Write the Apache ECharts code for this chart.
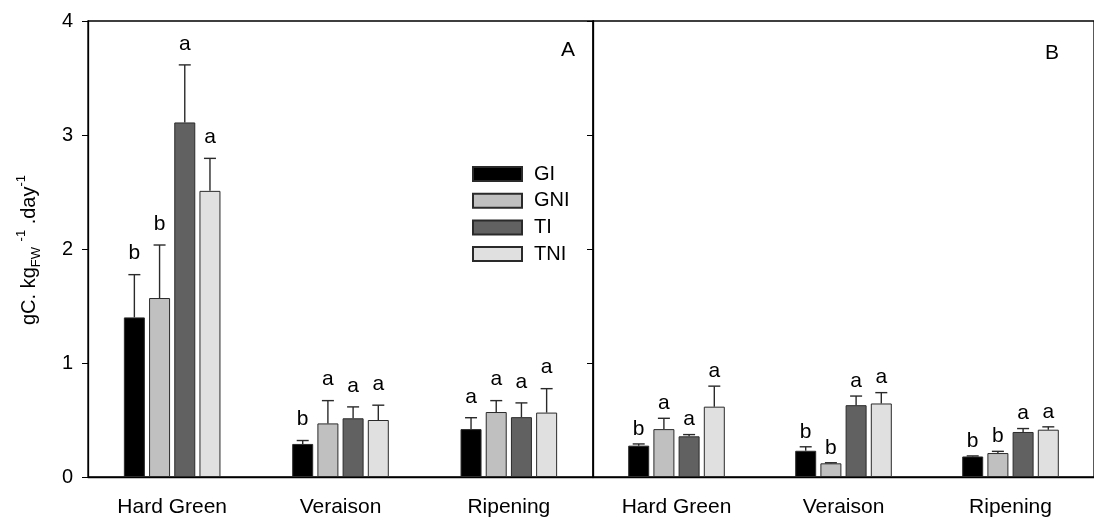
<!DOCTYPE html>
<html>
<head>
<meta charset="utf-8">
<script src="https://cdn.jsdelivr.net/npm/echarts@6/dist/echarts.min.js"></script>
<style>
  html, body { margin: 0; padding: 0; background: #fff; }
  #chart { width: 1094px; height: 518px; }
</style>
</head>
<body>
<div id="chart"></div>
<script>
// Stages and treatments
const categories = ['Hard Green', 'Veraison', 'Ripening'];
const seriesNames = ['GI', 'GNI', 'TI', 'TNI'];
const yTicks = [0, 1, 2, 3, 4];

// Panel A: means, standard errors, significance letters
const meanA_GI  = [1.40, 0.29, 0.42];
const meanA_GNI = [1.57, 0.47, 0.57];
const meanA_TI  = [3.11, 0.515, 0.525];
const meanA_TNI = [2.51, 0.50, 0.565];
const seA_GI  = [0.375, 0.03, 0.10];
const seA_GNI = [0.465, 0.20, 0.10];
const seA_TI  = [0.505, 0.10, 0.125];
const seA_TNI = [0.285, 0.13, 0.21];
const letA_GI  = ['b', 'b', 'a'];
const letA_GNI = ['b', 'a', 'a'];
const letA_TI  = ['a', 'a', 'a'];
const letA_TNI = ['a', 'a', 'a'];

// Panel B: means, standard errors, significance letters
const meanB_GI  = [0.275, 0.23, 0.18];
const meanB_GNI = [0.42, 0.12, 0.21];
const meanB_TI  = [0.357, 0.63, 0.395];
const meanB_TNI = [0.617, 0.645, 0.415];
const seB_GI  = [0.015, 0.035, 0.005];
const seB_GNI = [0.095, 0.005, 0.015];
const seB_TI  = [0.015, 0.08, 0.03];
const seB_TNI = [0.18, 0.095, 0.025];
const letB_GI  = ['b', 'b', 'b'];
const letB_GNI = ['a', 'b', 'b'];
const letB_TI  = ['a', 'a', 'a'];
const letB_TNI = ['a', 'a', 'a'];

const FONT = "'Liberation Sans', Arial, sans-serif";
const colors = ['#000000', '#c0c0c0', '#616161', '#e0e0e0'];
const BAR_W = 21;
const BAR_GAP = 0.2;
const PITCH = BAR_W * (1 + BAR_GAP);

const panels = [
  { means: [meanA_GI, meanA_GNI, meanA_TI, meanA_TNI],
    ses: [seA_GI, seA_GNI, seA_TI, seA_TNI],
    letters: [letA_GI, letA_GNI, letA_TI, letA_TNI], labelOff: 21 },
  { means: [meanB_GI, meanB_GNI, meanB_TI, meanB_TNI],
    ses: [seB_GI, seB_GNI, seB_TI, seB_TNI],
    letters: [letB_GI, letB_GNI, letB_TI, letB_TNI], labelOff: 15 }
];

function xAxisFor(idx) {
  return {
    type: 'category', gridIndex: idx, data: categories,
    axisLine: { lineStyle: { color: '#000', width: 1.3 } },
    axisTick: { alignWithLabel: true, length: 6, lineStyle: { color: '#000' } },
    axisLabel: { color: '#000', fontFamily: FONT, fontSize: 21, margin: 20 },
    splitLine: { show: false }
  };
}

function yAxisFor(idx) {
  return {
    type: 'value', gridIndex: idx, min: yTicks[0], max: yTicks[yTicks.length - 1], interval: 1,
    axisLine: { show: true, lineStyle: { color: '#000', width: 1.3 } },
    axisTick: { show: true, length: 6, lineStyle: { color: '#000' } },
    axisLabel: { show: idx === 0, color: '#000', fontFamily: FONT, fontSize: 20, margin: 15 },
    splitLine: { show: false }
  };
}

const series = [];
panels.forEach((p, pi) => {
  seriesNames.forEach((name, si) => {
    series.push({
      name: name, type: 'bar', xAxisIndex: pi, yAxisIndex: pi,
      data: p.means[si], barWidth: BAR_W, barGap: (BAR_GAP * 100) + '%',
      itemStyle: { color: colors[si], borderColor: '#2a2a2a', borderWidth: 1 },
      emphasis: { disabled: true }, animation: false
    });
  });
  seriesNames.forEach((name, si) => {
    series.push({
      type: 'custom', xAxisIndex: pi, yAxisIndex: pi, z: 5, animation: false,
      data: categories.map((c, ci) => [ci, p.means[si][ci], p.means[si][ci] + p.ses[si][ci]]),
      renderItem: function (params, api) {
        const ci = api.value(0);
        const base = api.coord([ci, api.value(1)]);
        const top = api.coord([ci, api.value(2)]);
        const cx = base[0] + (si - 1.5) * PITCH;
        const txt = p.letters[si][ci];
        return {
          type: 'group',
          children: [
            { type: 'line', shape: { x1: cx, y1: base[1], x2: cx, y2: top[1] },
              style: { stroke: '#2a2a2a', lineWidth: 1.4 } },
            { type: 'line', shape: { x1: cx - 6, y1: top[1], x2: cx + 6, y2: top[1] },
              style: { stroke: '#2a2a2a', lineWidth: 1.4 } },
            { type: 'text', style: { text: txt, x: cx, y: top[1] - p.labelOff,
              align: 'center', verticalAlign: 'middle', fontSize: 21, fontFamily: FONT, fill: '#000' } }
          ]
        };
      }
    });
  });
});

const chart = echarts.init(document.getElementById('chart'), null, { renderer: 'canvas' });
chart.setOption({
  backgroundColor: '#fff',
  animation: false,
  grid: [
    { left: 88, top: 21, width: 505, height: 456, show: true, borderColor: '#000', borderWidth: 1.3, backgroundColor: 'transparent' },
    { left: 593, top: 21, width: 508, height: 456, show: true, borderColor: '#000', borderWidth: 1.3, backgroundColor: 'transparent' }
  ],
  xAxis: [xAxisFor(0), xAxisFor(1)],
  yAxis: [yAxisFor(0), yAxisFor(1)],
  legend: {
    data: seriesNames, orient: 'vertical', left: 467, top: 159,
    itemWidth: 49, itemHeight: 14, itemGap: 6.7, selectedMode: false,
    icon: 'rect',
    textStyle: { color: '#000', fontFamily: FONT, fontSize: 20, lineHeight: 20, padding: [0, 0, 0, 7] }
  },
  graphic: [
    { type: 'text', left: 561, top: 40, style: { text: 'A', fontSize: 21, fontFamily: FONT, fill: '#000' } },
    { type: 'text', left: 1045, top: 43, style: { text: 'B', fontSize: 21, fontFamily: FONT, fill: '#000' } },
    { type: 'text', x: 29, y: 250, rotation: Math.PI / 2,
      style: {
        text: '{m|gC. kg}{sub|FW}{m| }{sup|-1}{m| .day}{sup|-1}',
        align: 'center', verticalAlign: 'middle', fill: '#000',
        rich: {
          m: { fontSize: 20, fontFamily: FONT, lineHeight: 28, fill: '#000' },
          sub: { fontSize: 13, fontFamily: FONT, lineHeight: 13, verticalAlign: 'bottom', fill: '#000' },
          sup: { fontSize: 13, fontFamily: FONT, lineHeight: 13, verticalAlign: 'top', fill: '#000' }
        }
      } }
  ],
  series: series
});
</script>
</body>
</html>
